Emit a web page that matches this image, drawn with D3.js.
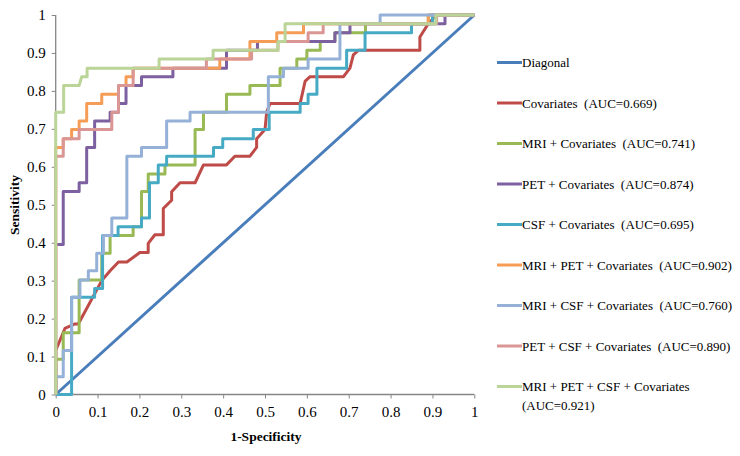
<!DOCTYPE html>
<html><head><meta charset="utf-8">
<script src="https://cdn.jsdelivr.net/npm/d3@7"></script>
<style>
html,body{margin:0;padding:0;background:#fff;}
svg{display:block;}
</style></head>
<body><svg id="chart" width="740" height="456"></svg>
<script>
// ---- data (fpr, tpr) ----
const seriesNames = ["Diagonal","Covariates  (AUC=0.669)","MRI + Covariates  (AUC=0.741)","PET + Covariates  (AUC=0.874)","CSF + Covariates  (AUC=0.695)","MRI + PET + Covariates  (AUC=0.902)","MRI + CSF + Covariates  (AUC=0.760)","PET + CSF + Covariates  (AUC=0.890)","MRI + PET + CSF + Covariates|(AUC=0.921)"];
const seriesColors = ["#4A7EBB","#BE4B48","#98B954","#7D60A0","#46AAC5","#F59D56","#95B1D8","#DA9694","#BBD497"];
const xTicks = [0,0.1,0.2,0.3,0.4,0.5,0.6,0.7,0.8,0.9,1];
const yTicks = [0,0.1,0.2,0.3,0.4,0.5,0.6,0.7,0.8,0.9,1];

const diagonal = [[0,0],[1,1]];
const covariates = [[0,0],[0,0.116],[0.022,0.174],[0.046,0.186],[0.054,0.186],[0.11,0.30],[0.13,0.326],[0.15,0.349],[0.17,0.349],[0.201,0.374],[0.221,0.374],[0.221,0.398],[0.237,0.421],[0.257,0.421],[0.257,0.49],[0.277,0.512],[0.277,0.534],[0.297,0.558],[0.333,0.558],[0.353,0.605],[0.408,0.605],[0.428,0.628],[0.464,0.628],[0.48,0.651],[0.48,0.674],[0.50,0.698],[0.504,0.744],[0.512,0.767],[0.584,0.767],[0.596,0.826],[0.607,0.837],[0.687,0.837],[0.703,0.86],[0.711,0.895],[0.723,0.907],[0.87,0.907],[0.87,0.942],[0.89,0.977],[0.91,1],[1,1]];
const mriCov = [[0,0],[0,0.093],[0.018,0.093],[0.018,0.163],[0.056,0.163],[0.056,0.302],[0.11,0.302],[0.11,0.372],[0.13,0.372],[0.13,0.419],[0.185,0.419],[0.185,0.442],[0.205,0.442],[0.205,0.535],[0.221,0.535],[0.221,0.581],[0.261,0.581],[0.261,0.605],[0.333,0.605],[0.333,0.698],[0.353,0.698],[0.353,0.744],[0.408,0.744],[0.408,0.791],[0.464,0.791],[0.464,0.814],[0.536,0.814],[0.536,0.86],[0.576,0.86],[0.576,0.884],[0.60,0.884],[0.60,0.907],[0.632,0.907],[0.632,0.93],[0.667,0.93],[0.667,0.953],[0.74,0.953],[0.74,0.977],[0.89,0.977],[0.89,1],[1,1]];
const petCov = [[0,0],[0,0.395],[0.018,0.395],[0.018,0.535],[0.056,0.535],[0.056,0.558],[0.074,0.558],[0.074,0.651],[0.093,0.651],[0.093,0.721],[0.13,0.721],[0.13,0.744],[0.15,0.744],[0.15,0.767],[0.168,0.767],[0.168,0.814],[0.205,0.814],[0.205,0.837],[0.28,0.837],[0.28,0.86],[0.408,0.86],[0.408,0.907],[0.482,0.907],[0.482,0.93],[0.667,0.93],[0.667,0.953],[0.703,0.953],[0.703,0.977],[0.93,0.977],[0.93,1],[1,1]];
const csfCov = [[0,0],[0.038,0],[0.038,0.256],[0.093,0.256],[0.093,0.279],[0.112,0.279],[0.112,0.419],[0.149,0.419],[0.149,0.442],[0.205,0.442],[0.205,0.465],[0.224,0.465],[0.224,0.558],[0.245,0.558],[0.245,0.605],[0.265,0.605],[0.265,0.628],[0.377,0.628],[0.377,0.651],[0.399,0.651],[0.399,0.674],[0.472,0.674],[0.472,0.698],[0.51,0.698],[0.51,0.744],[0.584,0.744],[0.584,0.767],[0.603,0.767],[0.603,0.791],[0.624,0.791],[0.624,0.86],[0.695,0.86],[0.695,0.907],[0.739,0.907],[0.739,0.953],[0.85,0.953],[0.85,0.977],[0.9,0.977],[0.9,1],[1,1]];
const mriPetCov = [[0,0],[0,0.651],[0.018,0.651],[0.018,0.674],[0.038,0.674],[0.038,0.698],[0.056,0.698],[0.056,0.721],[0.074,0.721],[0.074,0.767],[0.11,0.767],[0.11,0.791],[0.15,0.791],[0.15,0.814],[0.168,0.814],[0.168,0.837],[0.185,0.837],[0.185,0.86],[0.392,0.86],[0.392,0.884],[0.464,0.884],[0.464,0.93],[0.528,0.93],[0.528,0.953],[0.592,0.953],[0.592,0.977],[0.89,0.977],[0.89,1],[1,1]];
const mriCsfCov = [[0,0],[0,0.047],[0.018,0.047],[0.018,0.116],[0.038,0.116],[0.038,0.256],[0.058,0.256],[0.058,0.302],[0.078,0.302],[0.078,0.326],[0.098,0.326],[0.098,0.372],[0.114,0.372],[0.114,0.419],[0.134,0.419],[0.134,0.465],[0.17,0.465],[0.17,0.628],[0.205,0.628],[0.205,0.651],[0.265,0.651],[0.265,0.721],[0.321,0.721],[0.321,0.744],[0.508,0.744],[0.508,0.837],[0.544,0.837],[0.544,0.86],[0.603,0.86],[0.603,0.884],[0.679,0.884],[0.679,0.977],[0.775,0.977],[0.775,1],[1,1]];
const petCsfCov = [[0,0],[0,0.628],[0.018,0.628],[0.018,0.674],[0.056,0.674],[0.056,0.698],[0.134,0.698],[0.134,0.744],[0.15,0.744],[0.15,0.814],[0.185,0.814],[0.185,0.86],[0.36,0.86],[0.36,0.884],[0.468,0.884],[0.468,0.907],[0.531,0.907],[0.531,0.93],[0.603,0.93],[0.603,0.953],[0.639,0.953],[0.639,0.977],[0.91,0.977],[0.91,1],[1,1]];
const mriPetCsfCov = [[0,0],[0,0.744],[0.019,0.744],[0.019,0.814],[0.056,0.814],[0.062,0.837],[0.075,0.837],[0.075,0.86],[0.247,0.86],[0.247,0.884],[0.376,0.884],[0.376,0.907],[0.531,0.907],[0.531,0.93],[0.548,0.93],[0.548,0.977],[0.908,0.977],[0.908,1],[1,1]];
const seriesData = [diagonal,covariates,mriCov,petCov,csfCov,mriPetCov,mriCsfCov,petCsfCov,mriPetCsfCov];

// ---- drawing ----
const FONT = "'Liberation Serif', Tinos, 'Times New Roman', Times, serif";
const svg = d3.select("#chart");
const x = d3.scaleLinear().domain([0,1]).range([55.7,474.3]);
const y = d3.scaleLinear().domain([0,1]).range([394.5,15]);
const axisColor = "#868686";

const gx = svg.append("g").attr("transform","translate(0,394.5)")
  .call(d3.axisBottom(x).tickValues(xTicks).tickSize(4).tickPadding(8).tickFormat(d=>d3.format("")(d)));
const gy = svg.append("g").attr("transform","translate(55.7,0)")
  .call(d3.axisLeft(y).tickValues(yTicks).tickSize(4).tickPadding(6).tickFormat(d=>d3.format("")(d)));
[gx,gy].forEach(g=>{
  g.attr("font-family",null);
  g.select(".domain").attr("stroke",axisColor).attr("stroke-width",1.3);
  g.selectAll(".tick line").attr("stroke",axisColor);
  g.selectAll(".tick text").style("font-family",FONT).style("font-size","15px").attr("fill","#000");
});
gx.select(".domain").attr("d","M55.7,0H474.3");
gy.select(".domain").attr("d","M0,394.5V15");

const line = d3.line().x(d=>x(d[0])).y(d=>y(d[1]));
seriesData.forEach((s,i)=>{
  svg.append("path").datum(s).attr("d",line).attr("fill","none")
    .attr("stroke",seriesColors[i]).attr("stroke-width",3).attr("stroke-linejoin","round");
});

// axis titles
svg.append("text").attr("x",266).attr("y",441).attr("text-anchor","middle")
  .style("font-family",FONT).style("font-weight","bold").style("font-size","13.5px").text("1-Specificity");
svg.append("text").attr("transform","translate(19,205) rotate(-90)").attr("text-anchor","middle")
  .style("font-family",FONT).style("font-weight","bold").style("font-size","13.5px").text("Sensitivity");

// legend
const legY = [62.5,103,143.5,184,224.5,265,305.5,346,386.5];
seriesNames.forEach((n,i)=>{
  const g = svg.append("g").attr("transform",`translate(0,${legY[i]})`);
  g.append("line").attr("x1",497).attr("x2",522).attr("y1",0).attr("y2",0)
    .attr("stroke",seriesColors[i]).attr("stroke-width",3);
  const parts = n.split("|");
  parts.forEach((p,k)=>{
    g.append("text").attr("x",522).attr("y",4.5+k*18.5)
      .style("font-family",FONT).style("font-size","13px")
      .style("white-space","pre").text(p);
  });
});
</script></body></html>
